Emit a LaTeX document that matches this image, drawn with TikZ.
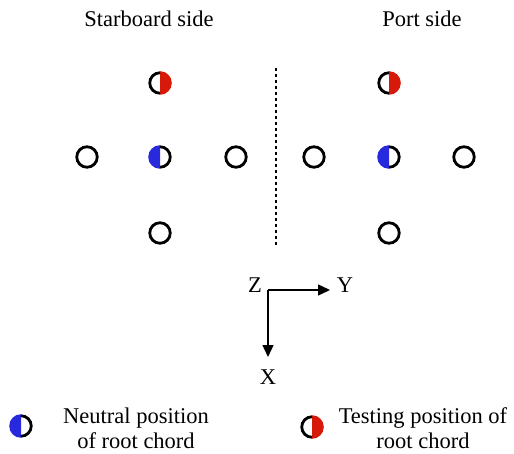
\documentclass[tikz,border=0pt]{standalone}
\usepackage{fontspec}
\setmainfont{Liberation Serif}
\usetikzlibrary{arrows.meta}
\definecolor{neutralblue}{RGB}{40,40,220}
\definecolor{testred}{RGB}{215,25,10}
\tikzset{
  spot/.style={circle, draw=black, line width=2.8pt, minimum size=20.5pt, inner sep=0pt},
  halfring/.style={draw=black, line width=2.8pt},
  lbl/.style={font=\fontsize{22.5}{25}\selectfont, inner sep=0pt},
  axis/.style={line width=1.4pt, -{Triangle[length=12pt,width=11pt]}}
}
% marker: coloured half disc on the left, black half ring on the right
\newcommand{\halfleft}[3]{%
  \coordinate (#1) at #2;
  \fill[#3] (#1) ++(90:11.8pt) arc[start angle=90, end angle=270, radius=11.8pt] -- cycle;
  \draw[halfring] (#1) ++(90:10.25pt) arc[start angle=90, end angle=-90, radius=10.25pt];
}
% marker: black half ring on the left, coloured half disc on the right
\newcommand{\halfright}[3]{%
  \coordinate (#1) at #2;
  \fill[#3] (#1) ++(90:11.8pt) arc[start angle=90, end angle=-90, radius=11.8pt] -- cycle;
  \draw[halfring] (#1) ++(90:10.25pt) arc[start angle=90, end angle=270, radius=10.25pt];
}
\begin{document}
\begin{tikzpicture}[x=1pt, y=-1pt]
  \useasboundingbox (0,0) rectangle (514,454);

  % headings
  \node[lbl] (sb) at (149,19) {Starboard side};
  \node[lbl] (ps) at (422,19) {Port side};

  % starboard positions
  \halfright{s1}{(160,83)}{testred}
  \node[spot] (s2) at (87,157) {};
  \halfleft{s3}{(160,157)}{neutralblue}
  \node[spot] (s4) at (236,157) {};
  \node[spot] (s5) at (160,233) {};

  % port positions
  \halfright{p1}{(389,83)}{testred}
  \node[spot] (p2) at (314,157) {};
  \halfleft{p3}{(389,157)}{neutralblue}
  \node[spot] (p4) at (464,157) {};
  \node[spot] (p5) at (389,233) {};

  % symmetry plane
  \coordinate (d1) at (276,68);
  \coordinate (d2) at (276,246);
  \draw[line width=1.6pt, dash pattern=on 3pt off 3pt] (d1) -- (d2);

  % axes
  \coordinate (o) at (268,290);
  \coordinate (ya) at (330,290);
  \coordinate (xa) at (268,357);
  \draw[axis] (o) -- (ya);
  \draw[axis] (o) -- (xa);
  \node[lbl] (zl) at (255,285) {Z};
  \node[lbl] (yl) at (345,285) {Y};
  \node[lbl] (xl) at (268,377) {X};

  % legend
  \halfleft{lg1}{(21,426)}{neutralblue}
  \node[lbl, align=center] (lt1) at (136,428) {Neutral position\\of root chord};
  \halfright{lg2}{(312,427)}{testred}
  \node[lbl, align=center] (lt2) at (423,428) {Testing position of\\root chord};
\end{tikzpicture}
\end{document}
